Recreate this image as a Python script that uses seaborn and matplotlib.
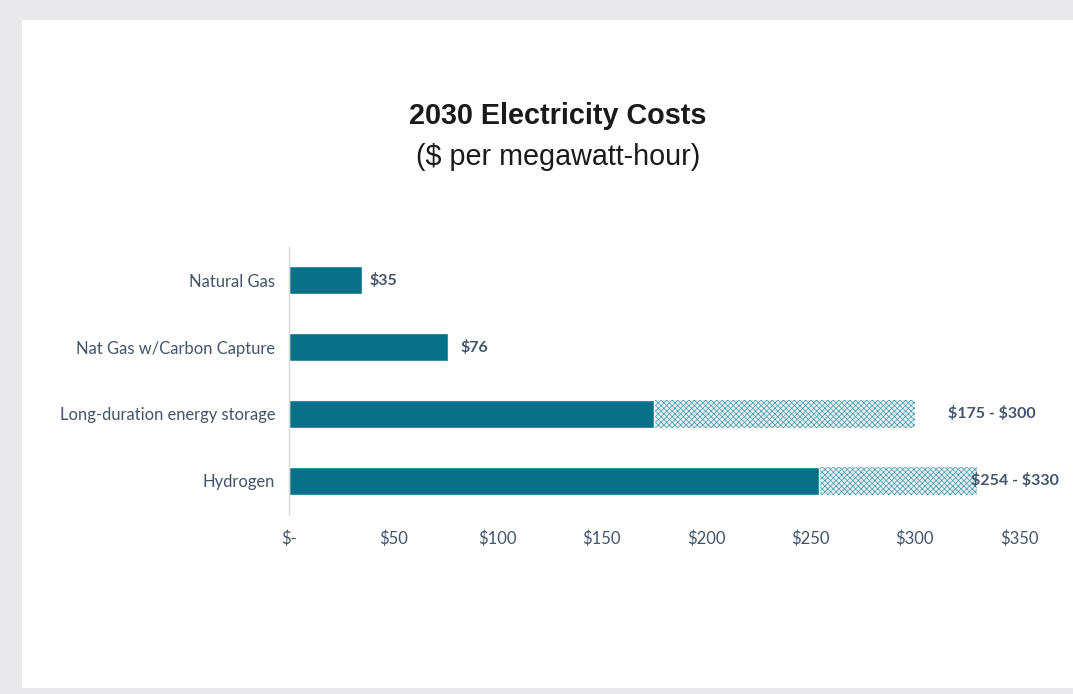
import matplotlib
matplotlib.use("Agg")
import matplotlib.pyplot as plt
from matplotlib.patches import Rectangle
import seaborn as sns
import pandas as pd
import numpy as np

# chart data
categories = ['Natural Gas', 'Nat Gas w/Carbon Capture', 'Long-duration energy storage', 'Hydrogen']
low_cost = [35, 76, 175, 254]
high_cost = [np.nan, np.nan, 300, 330]
value_labels = ['$35', '$76', '$175 - $300', '$254 - $330']
label_x = [38.5, 82, 316, 327]
xticks = [0, 50, 100, 150, 200, 250, 300, 350]
xtick_labels = ['$-', '$50', '$100', '$150', '$200', '$250', '$300', '$350']

teal = '#07718a'
txt = '#44546a'

df = pd.DataFrame({'cat': categories, 'low': low_cost, 'high': high_cost})

sns.set_style('white')
plt.rcParams['font.family'] = ['Lato', 'DejaVu Sans']
plt.rcParams['text.parse_math'] = False
plt.rcParams['hatch.linewidth'] = 0.5

fig = plt.figure(figsize=(10.73, 6.94), dpi=100)
fig.patch.set_facecolor('#e9e9eb')
# white card
fig.patches.append(Rectangle((22 / 1073, 6 / 694), 1 - 22 / 1073, (688 - 20) / 694,
                             transform=fig.transFigure, facecolor='white',
                             edgecolor='none', zorder=-5))

ax = fig.add_axes([289 / 1073, 1 - 514 / 694, 730 / 1073, 267 / 694])
ax.set_zorder(2)
ax.set_facecolor('none')

# hatched range bars (full length), then solid base on top
sns.barplot(data=df, x='high', y='cat', orient='h', color='#e4f0f3', width=0.42,
            hatch='xxxxxx', linewidth=0, saturation=1, ax=ax)
for p in ax.patches:
    p.set_edgecolor('#4a98ab')
sns.barplot(data=df, x='low', y='cat', orient='h', color=teal, width=0.42,
            saturation=1, ax=ax)

for i, lab in enumerate(value_labels):
    ax.text(label_x[i], i, lab, ha='left', va='center', fontsize=11.5,
            fontweight='bold', color=txt)

ax.set_xlim(0, 350)
ax.set_ylim(3.5, -0.5)
ax.set_xticks(xticks)
ax.set_xticklabels(xtick_labels, color=txt, fontsize=12)
ax.tick_params(axis='y', labelsize=11.9, labelcolor=txt, length=0, pad=10)
ax.tick_params(axis='x', length=0, pad=12)
ax.set_xlabel('')
ax.set_ylabel('')
for s in ['top', 'right', 'bottom']:
    ax.spines[s].set_visible(False)
ax.spines['left'].set_color('#d9d9d9')
ax.spines['left'].set_linewidth(1)

fig.text(558 / 1073, 1 - 116 / 694, '2030 Electricity Costs', ha='center', va='center',
         fontsize=20.7, fontweight='bold', color='#1a1a1a', family=['Liberation Sans'])
fig.text(558 / 1073, 1 - 157 / 694, '($ per megawatt-hour)', ha='center', va='center',
         fontsize=20.7, color='#1a1a1a', family=['Liberation Sans'])

fig.savefig('out.png', dpi=100, facecolor=fig.get_facecolor())
